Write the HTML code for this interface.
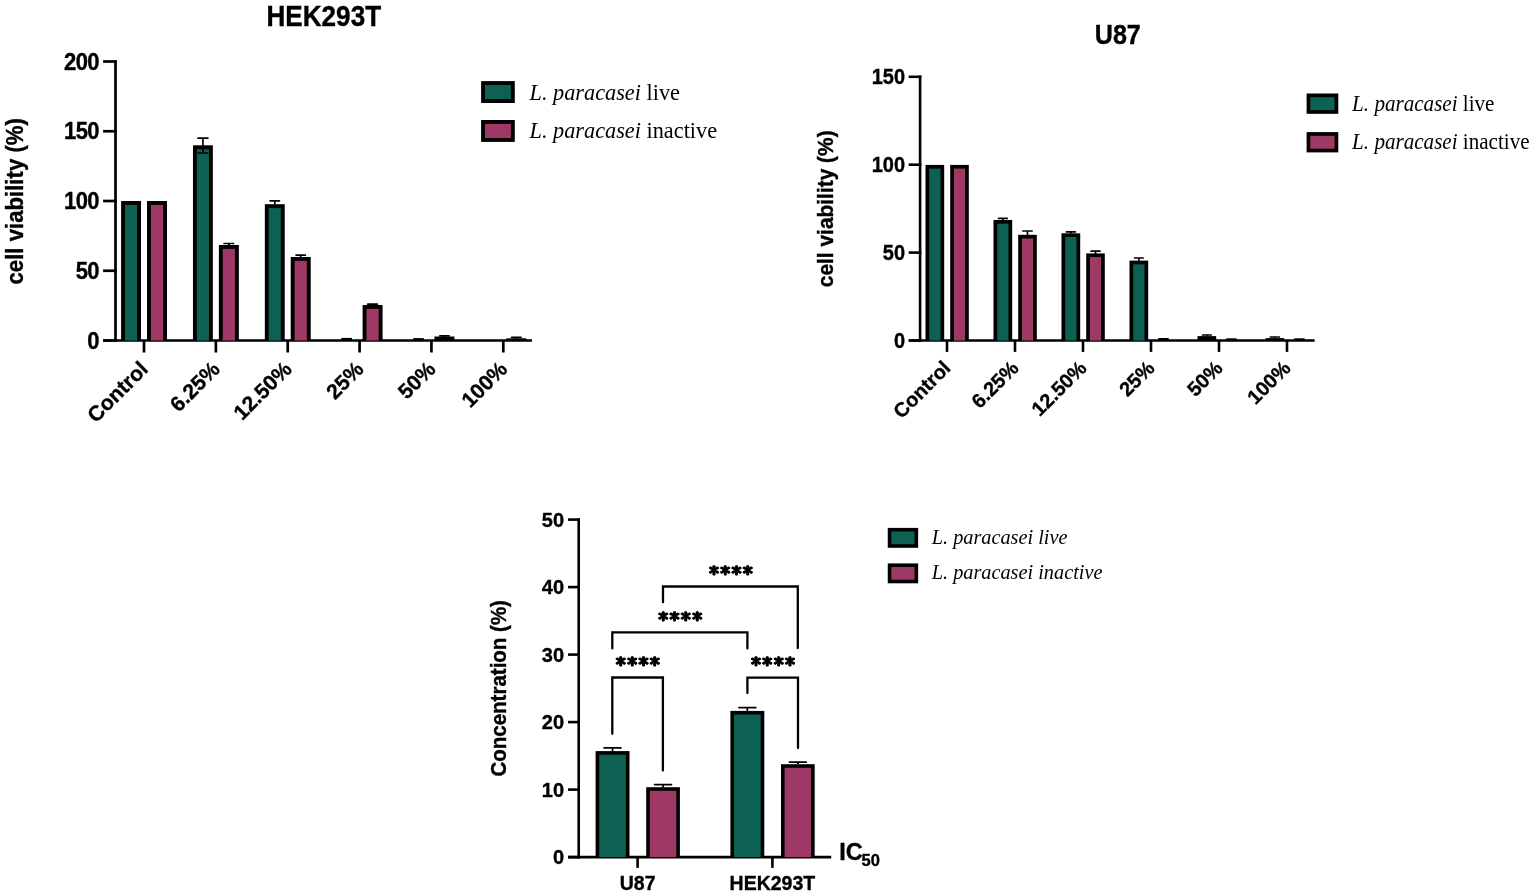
<!DOCTYPE html>
<html><head><meta charset="utf-8"><title>Cell viability and IC50 of L. paracasei</title>
<style>html,body{margin:0;padding:0;background:#fff;overflow:hidden;} svg{display:block;} .b{stroke:#000;stroke-width:0.35px;}</style>
</head><body>
<svg width="1535" height="896" viewBox="0 0 1535 896">
<rect width="1535" height="896" fill="#fff"/>
<line x1="115.50" y1="60.20" x2="115.50" y2="341.80" stroke="#000" stroke-width="2.7"/>
<line x1="103.10" y1="340.50" x2="116.80" y2="340.50" stroke="#000" stroke-width="2.7"/>
<text class="b" transform="translate(99.10 348.70) scale(1.0 1.055)" font-size="22" font-weight="bold" font-family="Liberation Sans, Arial, Helvetica, sans-serif" text-anchor="end" letter-spacing="-0.5">0</text>
<line x1="103.10" y1="270.75" x2="116.80" y2="270.75" stroke="#000" stroke-width="2.7"/>
<text class="b" transform="translate(99.10 278.95) scale(1.0 1.055)" font-size="22" font-weight="bold" font-family="Liberation Sans, Arial, Helvetica, sans-serif" text-anchor="end" letter-spacing="-0.5">50</text>
<line x1="103.10" y1="201.00" x2="116.80" y2="201.00" stroke="#000" stroke-width="2.7"/>
<text class="b" transform="translate(99.10 209.20) scale(1.0 1.055)" font-size="22" font-weight="bold" font-family="Liberation Sans, Arial, Helvetica, sans-serif" text-anchor="end" letter-spacing="-0.5">100</text>
<line x1="103.10" y1="131.25" x2="116.80" y2="131.25" stroke="#000" stroke-width="2.7"/>
<text class="b" transform="translate(99.10 139.45) scale(1.0 1.055)" font-size="22" font-weight="bold" font-family="Liberation Sans, Arial, Helvetica, sans-serif" text-anchor="end" letter-spacing="-0.5">150</text>
<line x1="103.10" y1="61.50" x2="116.80" y2="61.50" stroke="#000" stroke-width="2.7"/>
<text class="b" transform="translate(99.10 69.70) scale(1.0 1.055)" font-size="22" font-weight="bold" font-family="Liberation Sans, Arial, Helvetica, sans-serif" text-anchor="end" letter-spacing="-0.5">200</text>
<line x1="103.10" y1="340.50" x2="532.00" y2="340.50" stroke="#000" stroke-width="2.7"/>
<line x1="144.00" y1="340.50" x2="144.00" y2="352.50" stroke="#000" stroke-width="2.7"/>
<rect x="121.10" y="201.00" width="19.90" height="139.50" fill="#000"/>
<rect x="125.00" y="204.90" width="12.10" height="135.60" fill="#0c6152"/>
<rect x="147.00" y="201.00" width="20.00" height="139.50" fill="#000"/>
<rect x="150.90" y="204.90" width="12.20" height="135.60" fill="#9e3965"/>
<text class="b" x="149.30" y="370.40" font-size="21.2" font-weight="bold" font-family="Liberation Sans, Arial, Helvetica, sans-serif" text-anchor="end" transform="rotate(-45 149.3 370.4)">Control</text>
<line x1="215.86" y1="340.50" x2="215.86" y2="352.50" stroke="#000" stroke-width="2.7"/>
<rect x="192.96" y="145.30" width="19.90" height="195.20" fill="#000"/>
<rect x="196.86" y="149.20" width="12.10" height="191.30" fill="#0c6152"/>
<line x1="202.91" y1="138.10" x2="202.91" y2="145.80" stroke="#000" stroke-width="1.7"/>
<line x1="197.91" y1="138.10" x2="207.91" y2="138.10" stroke="#000" stroke-width="1.7" stroke-linecap="round"/>
<line x1="202.91" y1="153.00" x2="202.91" y2="145.80" stroke="#000" stroke-width="1.7"/>
<line x1="198.11" y1="153.00" x2="207.71" y2="153.00" stroke="#000" stroke-width="1.7" stroke-linecap="round"/>
<rect x="218.86" y="245.00" width="20.00" height="95.50" fill="#000"/>
<rect x="222.76" y="248.90" width="12.20" height="91.60" fill="#9e3965"/>
<line x1="228.86" y1="243.50" x2="228.86" y2="245.50" stroke="#000" stroke-width="1.7"/>
<line x1="224.16" y1="243.50" x2="233.56" y2="243.50" stroke="#000" stroke-width="1.7" stroke-linecap="round"/>
<text class="b" x="221.16" y="370.40" font-size="21.2" font-weight="bold" font-family="Liberation Sans, Arial, Helvetica, sans-serif" text-anchor="end" transform="rotate(-45 221.2 370.4)">6.25%</text>
<line x1="287.72" y1="340.50" x2="287.72" y2="352.50" stroke="#000" stroke-width="2.7"/>
<rect x="264.82" y="204.20" width="19.90" height="136.30" fill="#000"/>
<rect x="268.72" y="208.10" width="12.10" height="132.40" fill="#0c6152"/>
<line x1="274.77" y1="200.80" x2="274.77" y2="204.70" stroke="#000" stroke-width="1.7"/>
<line x1="270.07" y1="200.80" x2="279.47" y2="200.80" stroke="#000" stroke-width="1.7" stroke-linecap="round"/>
<rect x="290.72" y="257.00" width="20.00" height="83.50" fill="#000"/>
<rect x="294.62" y="260.90" width="12.20" height="79.60" fill="#9e3965"/>
<line x1="300.72" y1="255.10" x2="300.72" y2="257.50" stroke="#000" stroke-width="1.7"/>
<line x1="296.02" y1="255.10" x2="305.42" y2="255.10" stroke="#000" stroke-width="1.7" stroke-linecap="round"/>
<text class="b" x="293.02" y="370.40" font-size="21.2" font-weight="bold" font-family="Liberation Sans, Arial, Helvetica, sans-serif" text-anchor="end" transform="rotate(-45 293.0 370.4)">12.50%</text>
<line x1="359.58" y1="340.50" x2="359.58" y2="352.50" stroke="#000" stroke-width="2.7"/>
<rect x="341.33" y="337.90" width="10.60" height="2.60" fill="#000"/>
<rect x="362.58" y="305.00" width="20.00" height="35.50" fill="#000"/>
<rect x="366.48" y="308.90" width="12.20" height="31.60" fill="#9e3965"/>
<line x1="372.58" y1="304.20" x2="372.58" y2="305.50" stroke="#000" stroke-width="1.7"/>
<line x1="367.78" y1="304.20" x2="377.38" y2="304.20" stroke="#000" stroke-width="1.7" stroke-linecap="round"/>
<text class="b" x="364.88" y="370.40" font-size="21.2" font-weight="bold" font-family="Liberation Sans, Arial, Helvetica, sans-serif" text-anchor="end" transform="rotate(-45 364.9 370.4)">25%</text>
<line x1="431.44" y1="340.50" x2="431.44" y2="352.50" stroke="#000" stroke-width="2.7"/>
<rect x="413.19" y="338.10" width="10.60" height="2.40" fill="#000"/>
<rect x="434.44" y="336.50" width="20.00" height="4.00" fill="#000"/>
<line x1="444.44" y1="335.90" x2="444.44" y2="337.00" stroke="#000" stroke-width="1.7"/>
<line x1="439.84" y1="335.90" x2="449.04" y2="335.90" stroke="#000" stroke-width="1.7" stroke-linecap="round"/>
<text class="b" x="436.74" y="370.40" font-size="21.2" font-weight="bold" font-family="Liberation Sans, Arial, Helvetica, sans-serif" text-anchor="end" transform="rotate(-45 436.7 370.4)">50%</text>
<line x1="503.30" y1="340.50" x2="503.30" y2="352.50" stroke="#000" stroke-width="2.7"/>
<rect x="506.30" y="338.30" width="20.00" height="2.20" fill="#000"/>
<line x1="516.30" y1="337.40" x2="516.30" y2="338.80" stroke="#000" stroke-width="1.7"/>
<line x1="511.60" y1="337.40" x2="521.00" y2="337.40" stroke="#000" stroke-width="1.7" stroke-linecap="round"/>
<text class="b" x="508.60" y="370.40" font-size="21.2" font-weight="bold" font-family="Liberation Sans, Arial, Helvetica, sans-serif" text-anchor="end" transform="rotate(-45 508.6 370.4)">100%</text>
<text class="b" transform="translate(323.80 26.40) scale(0.985 1.083)" font-size="26.5" font-weight="bold" font-family="Liberation Sans, Arial, Helvetica, sans-serif" text-anchor="middle">HEK293T</text>
<text class="b" transform="translate(23.0 201.3) rotate(-90) scale(1 1.04)" font-size="22.2" font-weight="bold" font-family="Liberation Sans, Arial, Helvetica, sans-serif" text-anchor="middle">cell viability (%)</text>
<rect x="481.10" y="81.10" width="33.70" height="21.90" fill="#000"/>
<rect x="485.00" y="85.00" width="25.90" height="14.10" fill="#0c6152"/>
<text transform="translate(529.5 99.6) scale(1 1.06)" font-size="22.3" font-family="Liberation Serif, Times New Roman, serif"><tspan font-style="italic">L. paracasei</tspan> live</text>
<rect x="481.10" y="120.00" width="33.70" height="21.90" fill="#000"/>
<rect x="485.00" y="123.90" width="25.90" height="14.10" fill="#9e3965"/>
<text transform="translate(529.5 137.8) scale(1 1.06)" font-size="22.3" font-family="Liberation Serif, Times New Roman, serif"><tspan font-style="italic">L. paracasei</tspan> inactive</text>
<line x1="920.10" y1="75.50" x2="920.10" y2="341.80" stroke="#000" stroke-width="2.6"/>
<line x1="908.70" y1="340.50" x2="921.40" y2="340.50" stroke="#000" stroke-width="2.6"/>
<text class="b" transform="translate(905.10 347.95) scale(1.0 1.065)" font-size="20" font-weight="bold" font-family="Liberation Sans, Arial, Helvetica, sans-serif" text-anchor="end">0</text>
<line x1="908.70" y1="252.60" x2="921.40" y2="252.60" stroke="#000" stroke-width="2.6"/>
<text class="b" transform="translate(905.10 260.05) scale(1.0 1.065)" font-size="20" font-weight="bold" font-family="Liberation Sans, Arial, Helvetica, sans-serif" text-anchor="end">50</text>
<line x1="908.70" y1="164.70" x2="921.40" y2="164.70" stroke="#000" stroke-width="2.6"/>
<text class="b" transform="translate(905.10 172.15) scale(1.0 1.065)" font-size="20" font-weight="bold" font-family="Liberation Sans, Arial, Helvetica, sans-serif" text-anchor="end">100</text>
<line x1="908.70" y1="76.80" x2="921.40" y2="76.80" stroke="#000" stroke-width="2.6"/>
<text class="b" transform="translate(905.10 84.25) scale(1.0 1.065)" font-size="20" font-weight="bold" font-family="Liberation Sans, Arial, Helvetica, sans-serif" text-anchor="end">150</text>
<line x1="908.70" y1="340.50" x2="1314.70" y2="340.50" stroke="#000" stroke-width="2.6"/>
<line x1="947.00" y1="340.50" x2="947.00" y2="351.90" stroke="#000" stroke-width="2.6"/>
<rect x="925.50" y="164.90" width="18.70" height="175.60" fill="#000"/>
<rect x="929.20" y="168.60" width="11.30" height="171.90" fill="#0c6152"/>
<rect x="950.20" y="164.90" width="18.60" height="175.60" fill="#000"/>
<rect x="953.90" y="168.60" width="11.20" height="171.90" fill="#9e3965"/>
<text class="b" x="951.80" y="369.30" font-size="20" font-weight="bold" font-family="Liberation Sans, Arial, Helvetica, sans-serif" text-anchor="end" transform="rotate(-45 951.8 369.3)">Control</text>
<line x1="1015.00" y1="340.50" x2="1015.00" y2="351.90" stroke="#000" stroke-width="2.6"/>
<rect x="993.50" y="220.00" width="18.70" height="120.50" fill="#000"/>
<rect x="997.20" y="223.70" width="11.30" height="116.80" fill="#0c6152"/>
<line x1="1002.85" y1="218.40" x2="1002.85" y2="220.50" stroke="#000" stroke-width="1.7"/>
<line x1="998.55" y1="218.40" x2="1007.15" y2="218.40" stroke="#000" stroke-width="1.7" stroke-linecap="round"/>
<rect x="1018.20" y="234.80" width="18.60" height="105.70" fill="#000"/>
<rect x="1021.90" y="238.50" width="11.20" height="102.00" fill="#9e3965"/>
<line x1="1027.50" y1="231.00" x2="1027.50" y2="235.30" stroke="#000" stroke-width="1.7"/>
<line x1="1022.90" y1="231.00" x2="1032.10" y2="231.00" stroke="#000" stroke-width="1.7" stroke-linecap="round"/>
<text class="b" x="1019.80" y="369.30" font-size="20" font-weight="bold" font-family="Liberation Sans, Arial, Helvetica, sans-serif" text-anchor="end" transform="rotate(-45 1019.8 369.3)">6.25%</text>
<line x1="1083.00" y1="340.50" x2="1083.00" y2="351.90" stroke="#000" stroke-width="2.6"/>
<rect x="1061.50" y="233.30" width="18.70" height="107.20" fill="#000"/>
<rect x="1065.20" y="237.00" width="11.30" height="103.50" fill="#0c6152"/>
<line x1="1070.85" y1="231.90" x2="1070.85" y2="233.80" stroke="#000" stroke-width="1.7"/>
<line x1="1066.45" y1="231.90" x2="1075.25" y2="231.90" stroke="#000" stroke-width="1.7" stroke-linecap="round"/>
<rect x="1086.20" y="253.40" width="18.60" height="87.10" fill="#000"/>
<rect x="1089.90" y="257.10" width="11.20" height="83.40" fill="#9e3965"/>
<line x1="1095.50" y1="251.20" x2="1095.50" y2="253.90" stroke="#000" stroke-width="1.7"/>
<line x1="1091.00" y1="251.20" x2="1100.00" y2="251.20" stroke="#000" stroke-width="1.7" stroke-linecap="round"/>
<text class="b" x="1087.80" y="369.30" font-size="20" font-weight="bold" font-family="Liberation Sans, Arial, Helvetica, sans-serif" text-anchor="end" transform="rotate(-45 1087.8 369.3)">12.50%</text>
<line x1="1151.00" y1="340.50" x2="1151.00" y2="351.90" stroke="#000" stroke-width="2.6"/>
<rect x="1129.50" y="260.60" width="18.70" height="79.90" fill="#000"/>
<rect x="1133.20" y="264.30" width="11.30" height="76.20" fill="#0c6152"/>
<line x1="1138.85" y1="258.00" x2="1138.85" y2="261.10" stroke="#000" stroke-width="1.7"/>
<line x1="1134.55" y1="258.00" x2="1143.15" y2="258.00" stroke="#000" stroke-width="1.7" stroke-linecap="round"/>
<rect x="1158.30" y="338.00" width="10.40" height="2.50" fill="#000"/>
<text class="b" x="1155.80" y="369.30" font-size="20" font-weight="bold" font-family="Liberation Sans, Arial, Helvetica, sans-serif" text-anchor="end" transform="rotate(-45 1155.8 369.3)">25%</text>
<line x1="1219.00" y1="340.50" x2="1219.00" y2="351.90" stroke="#000" stroke-width="2.6"/>
<rect x="1197.50" y="336.10" width="18.70" height="4.40" fill="#000"/>
<line x1="1206.85" y1="335.00" x2="1206.85" y2="336.60" stroke="#000" stroke-width="1.7"/>
<line x1="1202.55" y1="335.00" x2="1211.15" y2="335.00" stroke="#000" stroke-width="1.7" stroke-linecap="round"/>
<rect x="1226.30" y="338.30" width="10.40" height="2.20" fill="#000"/>
<text class="b" x="1223.80" y="369.30" font-size="20" font-weight="bold" font-family="Liberation Sans, Arial, Helvetica, sans-serif" text-anchor="end" transform="rotate(-45 1223.8 369.3)">50%</text>
<line x1="1287.00" y1="340.50" x2="1287.00" y2="351.90" stroke="#000" stroke-width="2.6"/>
<rect x="1265.50" y="338.10" width="18.70" height="2.40" fill="#000"/>
<line x1="1274.85" y1="337.00" x2="1274.85" y2="338.60" stroke="#000" stroke-width="1.7"/>
<line x1="1270.35" y1="337.00" x2="1279.35" y2="337.00" stroke="#000" stroke-width="1.7" stroke-linecap="round"/>
<rect x="1294.30" y="338.30" width="10.40" height="2.20" fill="#000"/>
<text class="b" x="1291.80" y="369.30" font-size="20" font-weight="bold" font-family="Liberation Sans, Arial, Helvetica, sans-serif" text-anchor="end" transform="rotate(-45 1291.8 369.3)">100%</text>
<text class="b" transform="translate(1117.80 43.60) scale(0.985 1.078)" font-size="25.5" font-weight="bold" font-family="Liberation Sans, Arial, Helvetica, sans-serif" text-anchor="middle">U87</text>
<text class="b" transform="translate(833.0 208.8) rotate(-90) scale(1 1.08)" font-size="20.9" font-weight="bold" font-family="Liberation Sans, Arial, Helvetica, sans-serif" text-anchor="middle">cell viability (%)</text>
<rect x="1306.60" y="93.50" width="31.70" height="20.30" fill="#000"/>
<rect x="1310.30" y="97.20" width="24.30" height="12.90" fill="#0c6152"/>
<text transform="translate(1352.1 110.7) scale(1 1.06)" font-size="21.1" font-family="Liberation Serif, Times New Roman, serif"><tspan font-style="italic">L. paracasei</tspan> live</text>
<rect x="1306.60" y="132.10" width="31.70" height="20.30" fill="#000"/>
<rect x="1310.30" y="135.80" width="24.30" height="12.90" fill="#9e3965"/>
<text transform="translate(1352.1 148.6) scale(1 1.06)" font-size="21.1" font-family="Liberation Serif, Times New Roman, serif"><tspan font-style="italic">L. paracasei</tspan> inactive</text>
<line x1="578.70" y1="518.30" x2="578.70" y2="858.40" stroke="#000" stroke-width="2.6"/>
<line x1="568.00" y1="857.10" x2="580.00" y2="857.10" stroke="#000" stroke-width="2.6"/>
<text class="b" transform="translate(564.10 864.40) scale(1.0 1.04)" font-size="20" font-weight="bold" font-family="Liberation Sans, Arial, Helvetica, sans-serif" text-anchor="end">0</text>
<line x1="568.00" y1="789.60" x2="580.00" y2="789.60" stroke="#000" stroke-width="2.6"/>
<text class="b" transform="translate(564.10 796.90) scale(1.0 1.04)" font-size="20" font-weight="bold" font-family="Liberation Sans, Arial, Helvetica, sans-serif" text-anchor="end">10</text>
<line x1="568.00" y1="722.10" x2="580.00" y2="722.10" stroke="#000" stroke-width="2.6"/>
<text class="b" transform="translate(564.10 729.40) scale(1.0 1.04)" font-size="20" font-weight="bold" font-family="Liberation Sans, Arial, Helvetica, sans-serif" text-anchor="end">20</text>
<line x1="568.00" y1="654.60" x2="580.00" y2="654.60" stroke="#000" stroke-width="2.6"/>
<text class="b" transform="translate(564.10 661.90) scale(1.0 1.04)" font-size="20" font-weight="bold" font-family="Liberation Sans, Arial, Helvetica, sans-serif" text-anchor="end">30</text>
<line x1="568.00" y1="587.10" x2="580.00" y2="587.10" stroke="#000" stroke-width="2.6"/>
<text class="b" transform="translate(564.10 594.40) scale(1.0 1.04)" font-size="20" font-weight="bold" font-family="Liberation Sans, Arial, Helvetica, sans-serif" text-anchor="end">40</text>
<line x1="568.00" y1="519.60" x2="580.00" y2="519.60" stroke="#000" stroke-width="2.6"/>
<text class="b" transform="translate(564.10 526.90) scale(1.0 1.04)" font-size="20" font-weight="bold" font-family="Liberation Sans, Arial, Helvetica, sans-serif" text-anchor="end">50</text>
<line x1="568.00" y1="857.10" x2="831.20" y2="857.10" stroke="#000" stroke-width="2.6"/>
<line x1="637.60" y1="857.10" x2="637.60" y2="867.90" stroke="#000" stroke-width="2.6"/>
<rect x="595.60" y="751.10" width="33.90" height="106.00" fill="#000"/>
<rect x="599.20" y="754.70" width="26.70" height="102.40" fill="#0c6152"/>
<line x1="612.55" y1="747.90" x2="612.55" y2="751.60" stroke="#000" stroke-width="1.7"/>
<line x1="604.10" y1="747.90" x2="621.00" y2="747.90" stroke="#000" stroke-width="1.7" stroke-linecap="round"/>
<rect x="646.20" y="787.20" width="33.70" height="69.90" fill="#000"/>
<rect x="649.80" y="790.80" width="26.50" height="66.30" fill="#9e3965"/>
<line x1="663.05" y1="784.60" x2="663.05" y2="787.70" stroke="#000" stroke-width="1.7"/>
<line x1="654.60" y1="784.60" x2="671.50" y2="784.60" stroke="#000" stroke-width="1.7" stroke-linecap="round"/>
<text class="b" x="637.60" y="889.80" font-size="19.5" font-weight="bold" font-family="Liberation Sans, Arial, Helvetica, sans-serif" text-anchor="middle" >U87</text>
<line x1="772.40" y1="857.10" x2="772.40" y2="867.90" stroke="#000" stroke-width="2.6"/>
<rect x="730.40" y="710.90" width="33.90" height="146.20" fill="#000"/>
<rect x="734.00" y="714.50" width="26.70" height="142.60" fill="#0c6152"/>
<line x1="747.35" y1="707.60" x2="747.35" y2="711.40" stroke="#000" stroke-width="1.7"/>
<line x1="738.90" y1="707.60" x2="755.80" y2="707.60" stroke="#000" stroke-width="1.7" stroke-linecap="round"/>
<rect x="781.00" y="764.20" width="33.70" height="92.90" fill="#000"/>
<rect x="784.60" y="767.80" width="26.50" height="89.30" fill="#9e3965"/>
<line x1="797.85" y1="762.10" x2="797.85" y2="764.70" stroke="#000" stroke-width="1.7"/>
<line x1="789.40" y1="762.10" x2="806.30" y2="762.10" stroke="#000" stroke-width="1.7" stroke-linecap="round"/>
<text class="b" x="772.40" y="889.80" font-size="19.5" font-weight="bold" font-family="Liberation Sans, Arial, Helvetica, sans-serif" text-anchor="middle" >HEK293T</text>
<path d="M612.3 733.8 V677.5 H662.9 V770.4" fill="none" stroke="#000" stroke-width="2.3" stroke-linecap="round"/>
<path d="M747.4 693.0 V677.7 H798.0 V748.0" fill="none" stroke="#000" stroke-width="2.3" stroke-linecap="round"/>
<path d="M612.3 648.4 V632.3 H747.4 V648.4" fill="none" stroke="#000" stroke-width="2.3" stroke-linecap="round"/>
<path d="M663.0 602.2 V586.5 H797.8 V648.0" fill="none" stroke="#000" stroke-width="2.3" stroke-linecap="round"/>
<text transform="translate(638.2 668.0) scale(1 0.86)" font-size="21" font-weight="bold" font-family="IPAGothic, sans-serif" text-anchor="middle" letter-spacing="0.8" stroke="#000" stroke-width="0.55">****</text>
<text transform="translate(773.4 668.2) scale(1 0.86)" font-size="21" font-weight="bold" font-family="IPAGothic, sans-serif" text-anchor="middle" letter-spacing="0.8" stroke="#000" stroke-width="0.55">****</text>
<text transform="translate(680.6 622.5) scale(1 0.86)" font-size="21" font-weight="bold" font-family="IPAGothic, sans-serif" text-anchor="middle" letter-spacing="0.8" stroke="#000" stroke-width="0.55">****</text>
<text transform="translate(731.3 576.9) scale(1 0.86)" font-size="21" font-weight="bold" font-family="IPAGothic, sans-serif" text-anchor="middle" letter-spacing="0.8" stroke="#000" stroke-width="0.55">****</text>
<text class="b" x="839.20" y="859.70" font-size="23.5" font-weight="bold" font-family="Liberation Sans, Arial, Helvetica, sans-serif" text-anchor="start" >IC<tspan font-size="16.5" dx="-1.2" dy="6.2">50</tspan></text>
<text class="b" transform="translate(505.8 688.3) rotate(-90) scale(1 1.08)" font-size="20.5" font-weight="bold" font-family="Liberation Sans, Arial, Helvetica, sans-serif" text-anchor="middle">Concentration (%)</text>
<rect x="887.75" y="527.90" width="30.40" height="19.90" fill="#000"/>
<rect x="891.35" y="531.50" width="23.20" height="12.70" fill="#0c6152"/>
<text transform="translate(931.7 544.2) scale(1 1.06)" font-size="20.3" font-style="italic" font-family="Liberation Serif, Times New Roman, serif">L. paracasei live</text>
<rect x="887.75" y="563.40" width="30.40" height="19.90" fill="#000"/>
<rect x="891.35" y="567.00" width="23.20" height="12.70" fill="#9e3965"/>
<text transform="translate(931.7 579.4) scale(1 1.06)" font-size="20.3" font-style="italic" font-family="Liberation Serif, Times New Roman, serif">L. paracasei inactive</text>
</svg>
</body></html>
